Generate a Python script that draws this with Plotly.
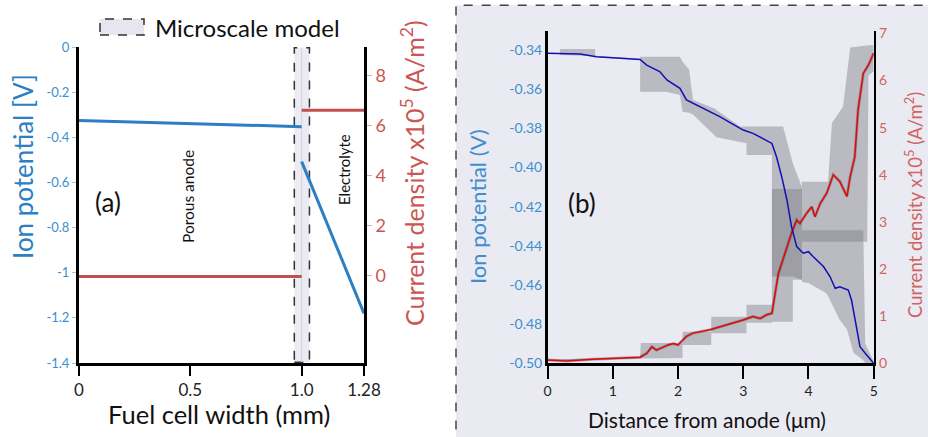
import plotly.graph_objects as go

W, H = 928, 437
FONT = "Lato"

# ---------------- Panel (a) data ----------------
a_anode_x = [0.0, 1.0]
a_anode_pot = [-0.326, -0.353]
a_elec_x = [1.0, 1.28]
a_elec_pot = [-0.508, -1.18]
a_anode_cur = [-0.05, -0.05]
a_elec_cur = [6.6, 6.6]
a_xticks = [0, 0.5, 1.0, 1.28]
a_xticktext = ["0", "0.5", "1.0", "1.28"]
a_yticks = [0, -0.2, -0.4, -0.6, -0.8, -1.0, -1.2, -1.4]
a_yticktext = ["0", "-0.2", "-0.4", "-0.6", "-0.8", "-1", "-1.2", "-1.4"]
a_y2ticks = [0, 2, 4, 6, 8]
micro_x = [0.967, 1.035]

# ---------------- Panel (b) data ----------------
b_pot_x = [0.0, 0.5, 0.75, 1.42, 1.52, 1.72, 1.83, 2.03, 2.13, 2.34, 2.64, 3.0, 3.15,
           3.44, 3.51, 3.59, 3.67, 3.74, 3.82, 3.92, 4.0, 4.07, 4.23, 4.33, 4.41, 4.48,
           4.61, 4.66, 4.74, 4.79, 4.87, 5.0]
b_pot = [-0.3417, -0.342, -0.3434, -0.3448, -0.3477, -0.351, -0.3553, -0.3596, -0.3655,
         -0.369, -0.374, -0.3809, -0.3826, -0.3877, -0.3945, -0.4047, -0.4166, -0.4302,
         -0.4404, -0.4438, -0.443, -0.4455, -0.4506, -0.4557, -0.4617, -0.4609, -0.4626,
         -0.4677, -0.483, -0.4915, -0.4949, -0.50]

b_cur_x = [0.0, 0.29, 0.7, 1.42, 1.52, 1.6, 1.67, 1.77, 1.85, 1.93, 2.0, 2.13, 2.23,
           2.49, 2.75, 3.0, 3.15, 3.26, 3.36, 3.44, 3.49, 3.54, 3.59, 3.67, 3.74, 3.82,
           3.87, 3.97, 4.05, 4.1, 4.18, 4.28, 4.38, 4.48, 4.59, 4.64, 4.71, 4.76, 4.84,
           4.92, 5.0]
b_cur = [0.07, 0.05, 0.085, 0.13, 0.21, 0.35, 0.28, 0.35, 0.39, 0.42, 0.39, 0.57, 0.64,
         0.71, 0.81, 0.92, 0.99, 0.95, 1.03, 1.06, 1.49, 1.91, 2.12, 2.48, 2.76, 3.04,
         2.97, 3.18, 3.32, 3.11, 3.39, 3.61, 4.0, 3.86, 3.54, 3.96, 4.38, 5.37, 6.15,
         6.33, 6.58]

# spread envelopes (ion potential, left axis)
band_pot_x = [0.0, 0.19, 0.19, 0.73, 0.73, 1.42, 1.42, 1.82, 2.03, 2.07, 2.17, 2.23, 2.27,
              2.57, 2.59, 2.95, 3.05, 3.05, 3.44, 3.44, 3.61, 3.76, 3.9, 3.9, 4.0,
              4.28, 4.48, 4.59, 4.69, 4.84, 4.87, 5.0]
band_pot_hi = [-0.3415, -0.3415, -0.3395, -0.3395, -0.343, -0.3445, -0.3434, -0.3434,
               -0.3434, -0.346, -0.350, -0.3655, -0.366, -0.370, -0.3706, -0.3791, -0.3791,
               -0.3791, -0.3791, -0.3791, -0.3791, -0.3978, -0.410, -0.432, -0.432,
               -0.432, -0.432, -0.432, -0.432, -0.432, -0.49, -0.499]
band_pot_lo = [-0.3418, -0.3421, -0.3425, -0.3432, -0.3434, -0.345, -0.3613, -0.3613,
               -0.363, -0.3715, -0.372, -0.373, -0.374, -0.3839, -0.3845, -0.387, -0.3876,
               -0.3936, -0.3936, -0.4557, -0.4557, -0.4557, -0.4575, -0.4585, -0.459,
               -0.4643, -0.4779, -0.4826, -0.4946, -0.4985, -0.50, -0.50]

# spread envelopes (current density, right axis)
band_cur_x = [0.0, 1.42, 1.43, 2.07, 2.07, 2.51, 2.51, 3.05, 3.05, 3.44, 3.44, 3.76, 3.76,
              3.9, 3.9, 4.3, 4.36, 4.53, 4.64, 4.9, 4.92, 5.0]
band_cur_hi = [0.08, 0.13, 0.43, 0.43, 0.67, 0.67, 0.99, 0.99, 1.24, 1.24, 3.7, 3.7, 3.7,
               3.7, 3.85, 3.85, 5.1, 5.45, 6.7, 6.75, 6.75, 6.75]
band_cur_lo = [0.05, 0.1, 0.11, 0.11, 0.39, 0.39, 0.64, 0.64, 0.86, 0.86, 0.88, 0.88, 1.77,
               1.77, 2.58, 2.58, 2.58, 2.58, 2.58, 2.58, 6.1, 6.2]

b_xticks = [0, 1, 2, 3, 4, 5]
b_yticks = [-0.34, -0.36, -0.38, -0.40, -0.42, -0.44, -0.46, -0.48, -0.50]
b_y2ticks = [0, 1, 2, 3, 4, 5, 6, 7]

# colours
BLUE_A = "#2b7fc2"
BLUE_TXT = "#3d8fcf"
RED_A = "#c2504e"
RED_TXT = "#cc5654"
RED_TXT_B = "#d06462"
BLUE_B = "#1010b4"
RED_B = "#e00808"
LAV = "#eaeaf2"
BAND = "rgba(120,120,128,0.42)"


def pxx(v):
    return v / W


def pyy(v):
    return 1 - v / H


fig = go.Figure()

# ---- panel (a) traces ----
fig.add_trace(go.Scatter(x=a_anode_x, y=a_anode_pot, mode="lines",
                         line=dict(color=BLUE_A, width=3), xaxis="x", yaxis="y"))
fig.add_trace(go.Scatter(x=a_elec_x, y=a_elec_pot, mode="lines",
                         line=dict(color=BLUE_A, width=3), xaxis="x", yaxis="y"))
fig.add_trace(go.Scatter(x=a_anode_x, y=a_anode_cur, mode="lines",
                         line=dict(color=RED_A, width=3), xaxis="x", yaxis="y2"))
fig.add_trace(go.Scatter(x=a_elec_x, y=a_elec_cur, mode="lines",
                         line=dict(color=RED_A, width=3), xaxis="x", yaxis="y2"))

# ---- panel (b) traces ----
fig.add_trace(go.Scatter(x=band_pot_x + band_pot_x[::-1], y=band_pot_hi + band_pot_lo[::-1],
                         fill="toself", fillcolor=BAND, line=dict(width=0), mode="lines",
                         xaxis="x2", yaxis="y3"))
fig.add_trace(go.Scatter(x=band_cur_x + band_cur_x[::-1], y=band_cur_hi + band_cur_lo[::-1],
                         fill="toself", fillcolor=BAND, line=dict(width=0), mode="lines",
                         xaxis="x2", yaxis="y4"))
fig.add_trace(go.Scatter(x=b_cur_x, y=b_cur, mode="lines",
                         line=dict(color="rgba(50,50,50,0.3)", width=3),
                         xaxis="x2", yaxis="y4"))
fig.add_trace(go.Scatter(x=b_cur_x, y=b_cur, mode="lines",
                         line=dict(color=RED_B, width=1.5), xaxis="x2", yaxis="y4"))
fig.add_trace(go.Scatter(x=b_pot_x, y=b_pot, mode="lines",
                         line=dict(color=BLUE_B, width=1.5), xaxis="x2", yaxis="y5"))

axis_common = dict(showgrid=False, zeroline=False, showline=True, linecolor="black",
                   automargin=False)

a_ydom = [pyy(363), pyy(47)]
b_ydom = [pyy(363.3), pyy(31)]

fig.update_layout(
    width=W, height=H,
    margin=dict(l=0, r=0, t=0, b=0, autoexpand=False),
    paper_bgcolor="white",
    plot_bgcolor="rgba(0,0,0,0)",
    showlegend=False,
    hovermode=False,
    font=dict(family=FONT, color="black"),
    xaxis=dict(axis_common, domain=[pxx(79), pxx(364)], range=[0, 1.28], anchor="y",
               linewidth=3, ticks="outside", ticklen=10, tickwidth=2, tickcolor="black",
               tickvals=a_xticks, ticktext=a_xticktext,
               tickfont=dict(size=17, color="#222222", family=FONT)),
    yaxis=dict(axis_common, domain=a_ydom, range=[-1.4, 0], anchor="x",
               linewidth=3, ticks="outside", ticklen=4, tickwidth=1, tickcolor="#9cc4e4",
               tickvals=a_yticks, ticktext=a_yticktext,
               tickfont=dict(size=13, color=BLUE_TXT, family=FONT)),
    yaxis2=dict(axis_common, overlaying="y", side="right", anchor="x",
                range=[-3.508, 9.132], linewidth=3, ticks="outside", ticklen=5,
                tickwidth=1, tickcolor="#e4a8a8", tickvals=a_y2ticks,
                tickfont=dict(size=18, color=RED_TXT, family=FONT)),
    xaxis2=dict(axis_common, domain=[pxx(547.5), pxx(873.7)], range=[0, 5], anchor="y3",
                linewidth=2.5, ticks="outside", ticklen=13, tickwidth=2, tickcolor="black",
                tickvals=b_xticks,
                tickfont=dict(size=14, color="#222222", family=FONT)),
    yaxis3=dict(axis_common, domain=b_ydom, range=[-0.50, -0.3303], anchor="x2",
                linewidth=2.5, ticks="", tickvals=b_yticks,
                ticktext=["%.2f" % v for v in b_yticks],
                tickfont=dict(size=14, color=BLUE_TXT, family=FONT)),
    yaxis4=dict(axis_common, overlaying="y3", side="right", anchor="x2",
                range=[0, 7.05], linewidth=2.5, ticks="", tickvals=b_y2ticks,
                tickfont=dict(size=14, color=RED_TXT_B, family=FONT)),
    yaxis5=dict(overlaying="y3", anchor="x2", range=[-0.50, -0.3303], visible=False,
                showgrid=False, zeroline=False, automargin=False),
)

shapes = [
    # panel (b) background with dashed frame
    dict(type="rect", xref="paper", yref="paper", x0=pxx(456), x1=pxx(931),
         y0=pyy(440), y1=pyy(5.3), fillcolor=LAV,
         line=dict(color="#444444", width=1.5, dash="dash"), layer="below"),
    # microscale region in panel (a)
    dict(type="rect", xref="x", yref="y", x0=micro_x[0], x1=micro_x[1], y0=-1.397, y1=-0.003,
         fillcolor="#ebebf3", line=dict(color="#333333", width=1.5, dash="dash"),
         layer="below"),
    dict(type="line", xref="x", yref="y", x0=1.0, x1=1.0, y0=-1.397, y1=-0.003,
         line=dict(color="#d2d2de", width=1), layer="below"),
    # legend icon
    dict(type="rect", xref="paper", yref="paper", x0=pxx(100), x1=pxx(144),
         y0=pyy(35), y1=pyy(19), fillcolor="#e6e6f0",
         line=dict(color="#333333", width=1.5, dash="dash")),
]
fig.update_layout(shapes=shapes)

ann = [
    dict(text="Microscale model", x=pxx(153), y=pyy(27), xanchor="left", yanchor="middle",
         font=dict(size=24, color="#111111")),
    dict(text="(a)", x=pxx(107.5), y=pyy(202), xanchor="center", yanchor="middle",
         font=dict(size=26, color="#111111")),
    dict(text="(b)", x=pxx(582), y=pyy(203), xanchor="center", yanchor="middle",
         font=dict(size=26, color="#111111")),
    dict(text="Porous anode", x=pxx(188), y=pyy(197), textangle=-90, xanchor="center",
         yanchor="middle", font=dict(size=15.5, color="#111111")),
    dict(text="Electrolyte", x=pxx(344), y=pyy(170), textangle=-90, xanchor="center",
         yanchor="middle", font=dict(size=15, color="#111111")),
    dict(text="Ion potential [V]", x=pxx(23), y=pyy(167), textangle=-90, xanchor="center",
         yanchor="middle", font=dict(size=26, color=BLUE_A)),
    dict(text="Current density x10<sup>5</sup> (A/m<sup>2</sup>)", x=pxx(413), y=pyy(173),
         textangle=-90, xanchor="center", yanchor="middle",
         font=dict(size=25, color=RED_TXT)),
    dict(text="Fuel cell width (mm)", x=pxx(219), y=pyy(414), xanchor="center",
         yanchor="middle", font=dict(size=25.5, color="#111111")),
    dict(text="Ion potential (V)", x=pxx(477), y=pyy(206), textangle=-90, xanchor="center",
         yanchor="middle", font=dict(size=22, color=BLUE_TXT)),
    dict(text="Current density x10<sup>5</sup> (A/m<sup>2</sup>)", x=pxx(914), y=pyy(205),
         textangle=-90, xanchor="center", yanchor="middle",
         font=dict(size=18.5, color=RED_TXT_B)),
    dict(text="Distance from anode (μm)", x=pxx(707), y=pyy(419), xanchor="center",
         yanchor="middle", font=dict(size=21, color="#111111")),
]
for a in ann:
    a.update(xref="paper", yref="paper", showarrow=False)
    a["font"]["family"] = FONT
fig.update_layout(annotations=ann)

fig.write_html("out.html", config={"displayModeBar": False, "staticPlot": True},
               post_script="document.body.style.margin='0';document.body.style.overflow='hidden';")
